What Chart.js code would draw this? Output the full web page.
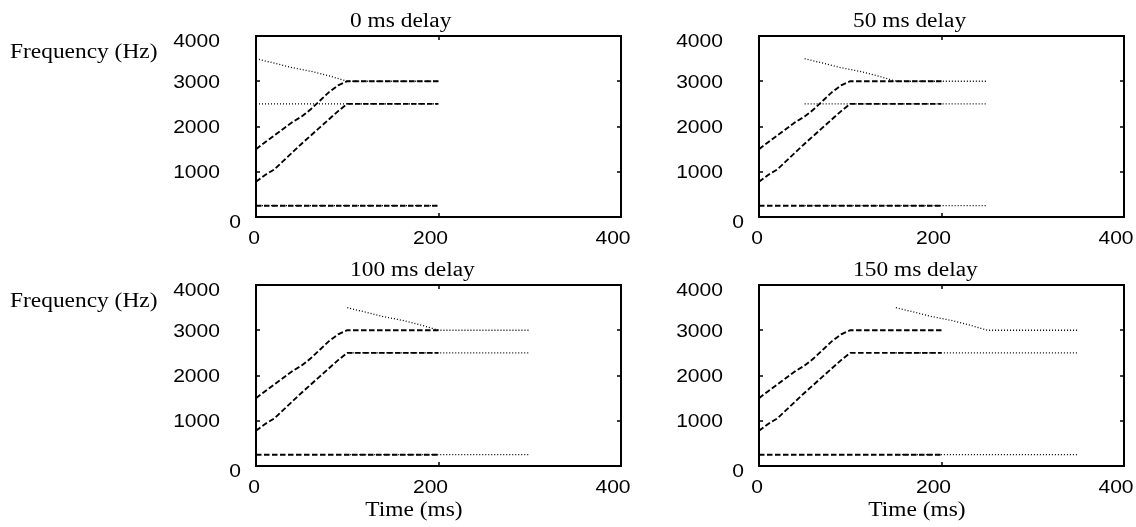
<!DOCTYPE html>
<html>
<head>
<meta charset="utf-8">
<script src="https://cdn.jsdelivr.net/npm/chart.js@4.4.1/dist/chart.umd.min.js"></script>
<style>
  html, body { margin: 0; padding: 0; background: #fff; overflow: hidden; }
  #wrap { position: relative; width: 1136px; height: 527px; }
  #wrap canvas { position: absolute; }
</style>
</head>
<body>
<div id="wrap">
  <canvas id="p0" width="640" height="255" style="left:0;top:0"></canvas>
  <canvas id="p1" width="496" height="255" style="left:640px;top:0"></canvas>
  <canvas id="p2" width="640" height="272" style="left:0;top:255px"></canvas>
  <canvas id="p3" width="496" height="272" style="left:640px;top:255px"></canvas>
</div>
<script>
/* =============================================
   Formant tracks, four onset delays
   ============================================= */

// ── Data ─────────────────────────────────────
const delays = [0, 50, 100, 150];
const panelTitles = ['0 ms delay', '50 ms delay', '100 ms delay', '150 ms delay'];
const xTicks = [0, 200, 400];
const yTicks = [0, 1000, 2000, 3000, 4000];

// first sound (dashed), time in ms, frequency in Hz
const f1Time = [0, 200];
const f1Hz = [250, 250];
const f2Time = [0, 10, 20, 30, 40, 50, 60, 70, 80, 90, 100, 200];
const f2Hz = [780, 930, 1050, 1240, 1430, 1620, 1800, 1980, 2160, 2340, 2500, 2500];
const f3Time = [0, 10, 20, 30, 40, 50, 60, 70, 80, 90, 100, 200];
const f3Hz = [1500, 1650, 1800, 1950, 2100, 2220, 2380, 2570, 2760, 2910, 3000, 3000];

// second sound (dotted), time from its own onset
const g1Time = [0, 200];
const g1Hz = [250, 250];
const g2Time = [0, 200];
const g2Hz = [2500, 2500];
const g3Time = [0, 20, 40, 60, 80, 100, 200];
const g3Hz = [3500, 3400, 3300, 3220, 3120, 3000, 3000];

// ── Helpers ──────────────────────────────────
const pts = (t, v, shift) => t.map((x, i) => ({ x: x + (shift || 0), y: v[i] }));

const dashed = data => ({
  data, borderColor: '#000', borderWidth: 1.9, borderDash: [5.5, 2.5],
  pointRadius: 0, tension: 0, fill: false
});
const dotted = data => ({
  data, borderColor: '#000', borderWidth: 1.3, borderDash: [1, 2],
  pointRadius: 0, tension: 0, fill: false
});

const STRETCH = 1.17;
function drawText(ctx, text, x, y, align, font) {
  ctx.save();
  ctx.font = font;
  ctx.textAlign = align;
  ctx.textBaseline = 'alphabetic';
  ctx.fillStyle = '#000';
  ctx.translate(x, y);
  ctx.scale(STRETCH, 1);
  ctx.fillText(text, 0, 0);
  ctx.restore();
}

const SANS = '18px "Liberation Sans", Arial, sans-serif';
const SERIF = '20px "Liberation Serif", "Times New Roman", serif';

// ── Frame, ticks and labels ──────────────────
const framePlugin = {
  id: 'frame',
  afterDraw(chart, args, opts) {
    const { ctx, chartArea: a } = chart;
    const xs = chart.scales.x, ys = chart.scales.y;
    ctx.save();
    ctx.strokeStyle = '#000';
    ctx.lineWidth = 2;
    ctx.strokeRect(a.left, a.top, a.right - a.left, a.bottom - a.top);

    ctx.lineWidth = 1.5;
    ctx.beginPath();
    xTicks.forEach(v => {
      const px = Math.round(xs.getPixelForValue(v));
      ctx.moveTo(px, a.bottom); ctx.lineTo(px, a.bottom - 4);
      ctx.moveTo(px, a.top); ctx.lineTo(px, a.top + 4);
    });
    yTicks.forEach(v => {
      const py = Math.round(ys.getPixelForValue(v));
      ctx.moveTo(a.left, py); ctx.lineTo(a.left + 4, py);
      ctx.moveTo(a.right, py); ctx.lineTo(a.right - 4, py);
    });
    ctx.stroke();
    ctx.restore();

    xTicks.forEach((v, i) => {
      const px = xs.getPixelForValue(v);
      drawText(ctx, String(v), px + (i === 0 ? -2 : -8), a.bottom + 26.5, 'center', SANS);
    });
    yTicks.forEach(v => {
      const py = ys.getPixelForValue(v);
      if (v === 0) drawText(ctx, '0', a.left - 15, py + 10.5, 'right', SANS);
      else drawText(ctx, String(v), a.left - 36, py + (v === 4000 ? 11 : 6.5), 'right', SANS);
    });

    drawText(ctx, opts.title, a.left + 94, a.top - 9, 'left', SERIF);
    if (opts.yTitle) drawText(ctx, 'Frequency (Hz)', 10, a.top + 22, 'left', SERIF);
    if (opts.xTitle) drawText(ctx, 'Time (ms)', a.left + 158, a.bottom + 50, 'center', SERIF);
  }
};

// ── Panels ───────────────────────────────────
const layouts = [
  { left: 256, right: 19, top: 36, bottom: 38 },
  { left: 119, right: 12, top: 36, bottom: 38 },
  { left: 256, right: 19, top: 30, bottom: 61 },
  { left: 119, right: 12, top: 30, bottom: 61 }
];

delays.forEach((d, k) => {
  new Chart(document.getElementById('p' + k), {
    type: 'line',
    data: {
      datasets: [
        dashed(pts(f1Time, f1Hz)),
        dashed(pts(f2Time, f2Hz)),
        dashed(pts(f3Time, f3Hz)),
        dotted(pts(g1Time, g1Hz, d)),
        dotted(pts(g2Time, g2Hz, d)),
        dotted(pts(g3Time, g3Hz, d))
      ]
    },
    options: {
      responsive: false,
      animation: false,
      devicePixelRatio: 1,
      layout: { padding: layouts[k] },
      plugins: {
        legend: { display: false },
        tooltip: { enabled: false },
        frame: { title: panelTitles[k], yTitle: k % 2 === 0, xTitle: k >= 2 }
      },
      scales: {
        x: { type: 'linear', min: 0, max: 400, display: false },
        y: { type: 'linear', min: 0, max: 4000, display: false }
      }
    },
    plugins: [framePlugin]
  });
});
</script>
</body>
</html>
